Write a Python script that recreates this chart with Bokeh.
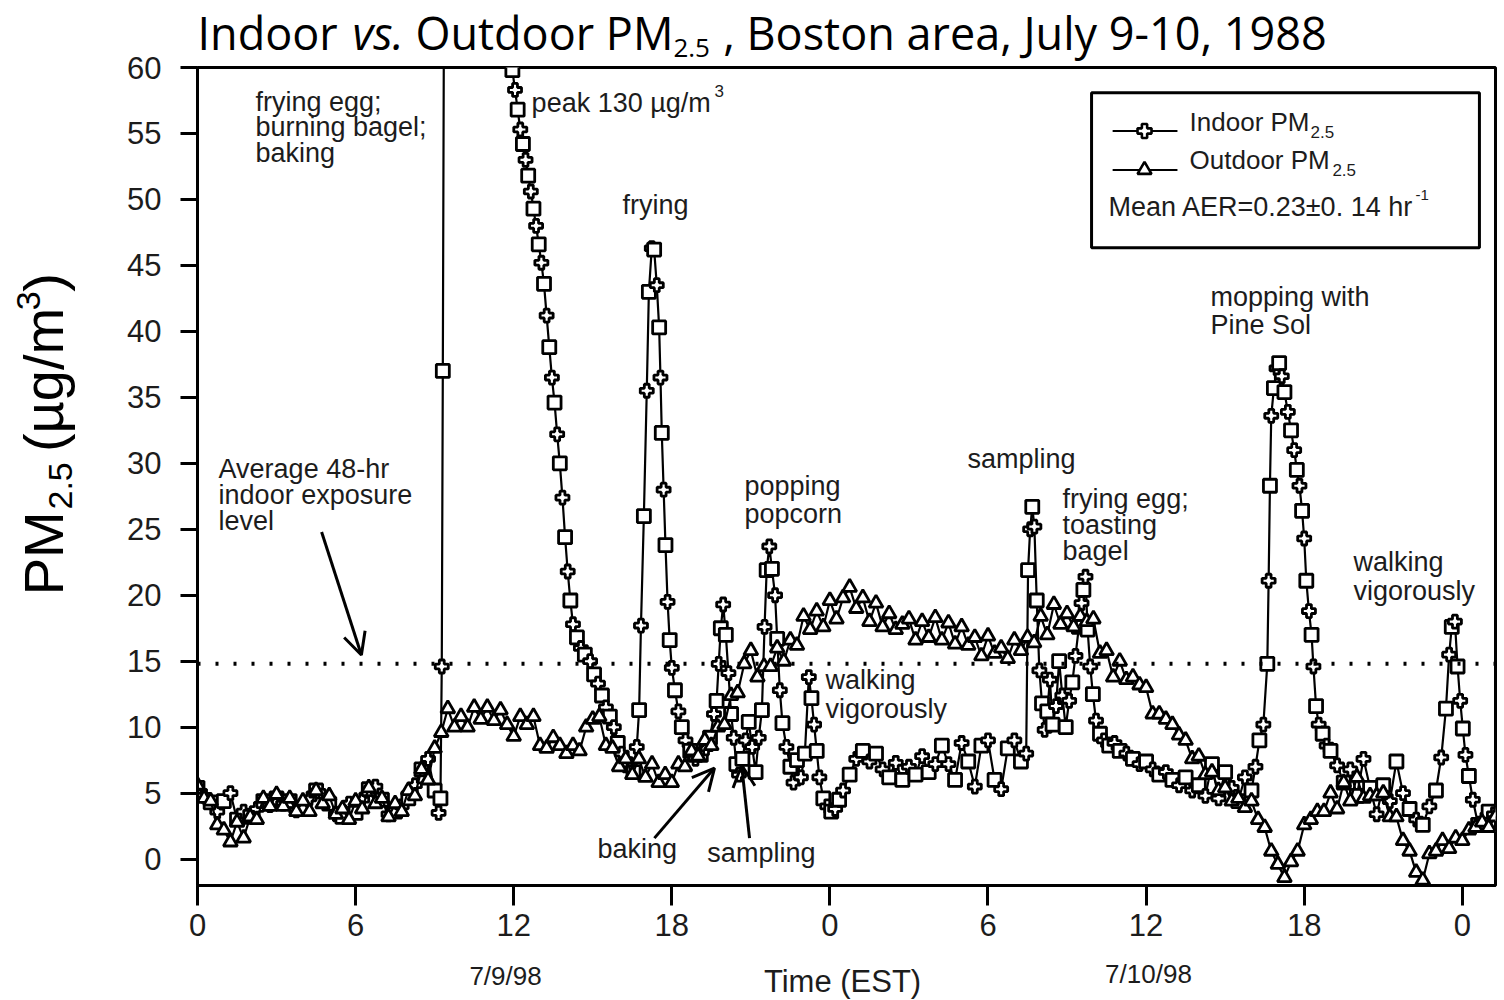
import numpy as np
from bokeh.plotting import figure
from bokeh.layouts import row, column
from bokeh.models import (Range1d, FixedTicker, Label, Span, Arrow, OpenHead,
                          BoxAnnotation, ColumnDataSource, LinearAxis)
from bokeh.core.validation import silence
from bokeh.core.validation.warnings import MISSING_RENDERERS
from bokeh.embed import file_html
from bokeh.resources import INLINE

silence(MISSING_RENDERERS, True)

# ---------------------------------------------------------------- data
# Outdoor PM2.5 (ug/m3), one reading every 15 minutes from 0:00 on 7/9/98
OUTDOOR_STEP_H = 0.25
outdoor_pm = [
    5.6, 4.6, 4.4, 2.6,   2.2, 1.3, 2.8, 1.6,   3.2, 3.0, 4.6, 4.0,
    4.9, 4.0, 4.6, 3.6,   4.4, 3.6, 5.2, 4.2,   4.8, 3.4, 3.8, 3.0,
    4.4, 3.8, 5.4, 4.2,   4.6, 3.2, 4.2, 3.6,   5.2, 4.8, 6.8, 6.0,
    8.4, 9.6, 11.4, 10.0, 10.8, 10.0, 11.5, 10.6, 11.5, 10.5, 11.3, 10.2,
    9.3, 10.8, 10.2, 10.8, 8.6, 8.4, 9.2, 8.6,  8.0, 8.6, 8.2, 10.0,
    10.6, 10.8, 8.6, 8.4, 7.0, 7.6, 6.4, 7.6,   6.2, 7.2, 5.8, 6.4,
    5.8, 7.2, 7.0, 8.2,   7.8, 9.0, 8.6, 10.0,  10.2, 12.4, 12.6, 14.8,
    15.8, 13.8, 14.6, 14.6, 16.0, 15.0, 16.6, 16.2, 18.4, 17.4, 18.8, 17.6,
    19.6, 18.2, 19.8, 20.6, 19.0, 19.8, 18.0, 19.4, 17.6, 18.6, 17.4, 17.8,
    18.2, 16.6, 18.0, 16.8, 18.3, 16.6, 17.9, 16.3, 17.6, 16.2, 16.8, 15.4,
    16.9, 15.6, 16.0, 15.2, 16.6, 15.8, 16.8, 16.4, 18.4, 17.0, 19.3, 17.8,
    18.6, 17.6, 18.4, 18.0, 18.2, 15.6, 15.8, 13.8, 15.0, 13.6, 13.8, 13.2,
    13.0, 11.0, 11.0, 10.6, 10.2, 9.4, 9.0, 7.6,  7.8, 6.4, 6.6, 5.2,
    5.4, 4.4, 4.6, 3.9,   4.4, 3.0, 2.4, 0.6,   -0.4, -1.4, -0.2, 0.6,
    2.6, 3.0, 3.6, 3.6,   5.0, 3.8, 5.8, 4.4,   6.2, 4.6, 4.8, 4.8,
    5.0, 3.2, 3.2, 1.4,   0.6, -1.0, -1.6, 0.4,  0.6, 1.4, 0.8, 1.6,
    1.4, 2.2, 2.4, 2.8,   2.4, 3.2,
]
outdoor_hours = [i * OUTDOOR_STEP_H for i in range(len(outdoor_pm))]

# Indoor PM2.5: denser readings during the cooking / activity episodes
indoor_hours = [
    0.0, 0.25, 0.5, 0.75, 1.0, 1.25, 1.5, 1.75, 2.0, 2.25, 2.5, 2.75,
    3.0, 3.25, 3.5, 3.75, 4.0, 4.25, 4.5, 4.75, 5.0, 5.25, 5.5, 5.75,
    6.0, 6.25, 6.5, 6.75, 7.0, 7.25, 7.5, 7.75, 8.0, 8.25, 8.5, 8.75, 9.0,
    9.15, 9.22, 9.27, 9.31, 9.4, 9.6, 9.8, 10.0, 10.25, 10.5, 10.75, 11.0,
    11.25, 11.5, 11.75,
    11.95, 12.05, 12.15, 12.25, 12.35, 12.45, 12.55, 12.65, 12.75, 12.85,
    12.95, 13.05, 13.15, 13.25, 13.35, 13.45, 13.55, 13.65, 13.75, 13.85,
    13.95, 14.05, 14.15, 14.25, 14.4, 14.55, 14.7, 14.9, 15.05, 15.2,
    15.35, 15.5, 15.65, 15.8, 15.95, 16.1, 16.25, 16.4, 16.55,
    16.67, 16.76, 16.83, 16.94, 17.05, 17.13, 17.24, 17.33, 17.43, 17.52,
    17.57, 17.62, 17.69, 17.76, 17.84, 17.92, 18.0, 18.12, 18.25, 18.38,
    18.52, 18.7, 18.9, 19.1, 19.3, 19.45,
    19.6, 19.7, 19.78, 19.86, 19.95, 20.05, 20.15, 20.25, 20.35, 20.45,
    20.55, 20.68, 20.8, 20.92, 21.05, 21.18, 21.3,
    21.42, 21.52, 21.6, 21.7, 21.8, 21.92, 22.0, 22.1, 22.2, 22.35, 22.5,
    22.62, 22.75, 22.9, 23.05,
    23.2, 23.3, 23.4, 23.5, 23.6, 23.75, 23.9, 24.05, 24.2, 24.35, 24.5,
    24.75, 25.0, 25.25, 25.5, 25.75, 26.0, 26.25, 26.5, 26.75, 27.0, 27.25,
    27.5, 27.75, 28.0, 28.25, 28.5, 28.75, 29.0, 29.25, 29.5, 29.75, 30.0,
    30.25, 30.5, 30.75, 31.0, 31.25, 31.45,
    31.52, 31.6, 31.68, 31.76, 31.85, 31.95, 32.05, 32.15, 32.25, 32.35,
    32.45, 32.58, 32.7, 32.82, 32.95, 33.08, 33.2, 33.32, 33.45, 33.55,
    33.62, 33.7, 33.78, 33.88, 33.98, 34.1, 34.25, 34.4, 34.6, 34.8, 35.0,
    35.25, 35.5, 35.75, 36.0, 36.25, 36.5, 36.75, 37.0, 37.25, 37.5, 37.75,
    38.0, 38.25, 38.5, 38.75, 39.0, 39.25, 39.5, 39.75, 40.0, 40.15, 40.3,
    40.45,
    40.6, 40.65, 40.7, 40.75, 40.85, 40.95, 41.05, 41.15, 41.25, 41.38,
    41.5, 41.62, 41.72, 41.82, 41.92, 42.0, 42.08, 42.18, 42.28, 42.35,
    42.45, 42.55, 42.7, 42.85, 43.0, 43.25, 43.5, 43.75, 44.0, 44.25, 44.5,
    44.75, 45.0, 45.25, 45.5, 45.75, 46.0, 46.25, 46.5, 46.75, 47.0,
    47.2, 47.38, 47.5, 47.6, 47.72, 47.82, 47.92, 48.02, 48.12, 48.25,
    48.4, 48.6, 48.8, 49.0, 49.2,
]
indoor_pm = [
    5.4, 4.8, 4.3, 3.6, 4.4, 5.0, 3.0, 3.6, 3.2, 3.8, 4.4, 4.1,
    4.6, 4.2, 4.4, 3.7, 3.9, 4.6, 5.2, 4.8, 4.2, 3.4, 3.2, 4.2,
    3.5, 4.5, 5.3, 5.5, 4.5, 3.4, 3.6, 4.0, 4.6, 5.6, 6.8, 7.6, 5.2,
    3.5, 4.6, 14.6, 37.0, 95.0, 130.0, 125.0, 118.0, 109.0, 100.0, 91.0, 82.0,
    74.0, 67.5, 62.5,
    59.8, 58.3, 56.8, 55.3, 54.2, 53.0, 51.8, 50.6, 49.3, 48.0,
    46.6, 45.2, 43.6, 41.2, 38.8, 36.5, 34.6, 32.2, 30.0, 27.4,
    24.4, 21.8, 19.6, 17.8, 16.8, 16.0, 15.5, 15.0, 14.0, 13.3,
    12.4, 11.5, 10.8, 10.0, 8.8, 8.0, 7.2, 6.8, 6.6,
    8.5, 11.3, 17.7, 26.0, 35.5, 43.0, 46.3, 46.2, 43.5, 40.3,
    36.5, 32.3, 28.0, 23.8, 19.5, 16.6, 14.5, 12.8, 11.2, 10.0,
    9.0, 8.2, 7.6, 7.9, 8.4, 9.2,
    11.0, 12.0, 14.8, 17.5, 19.3, 17.0, 14.1, 11.0, 9.2, 7.2,
    6.4, 7.6, 9.0, 10.4, 8.5, 6.6, 9.2,
    11.3, 17.6, 21.9, 23.7, 22.0, 20.0, 16.7, 12.8, 10.3, 8.5, 7.0,
    5.8, 7.5, 6.2, 8.0,
    13.8, 12.2, 10.2, 8.2, 6.2, 4.6, 4.0, 3.6, 3.8, 4.5, 5.2,
    6.4, 7.6, 8.2, 7.4, 8.0, 6.8, 6.2, 7.3, 6.0, 7.0, 6.4,
    7.8, 6.6, 7.2, 8.6, 7.2, 6.0, 8.8, 7.4, 5.5, 8.6, 9.0,
    6.0, 5.3, 8.4, 9.0, 7.4, 8.0,
    21.9, 25.0, 26.7, 25.2, 19.6, 14.3, 11.8, 9.8, 11.2, 13.6,
    10.2, 11.6, 15.0, 12.4, 10.0, 12.0, 13.4, 15.4, 17.6, 19.4,
    20.4, 21.4, 17.4, 14.6, 12.5, 10.5, 9.5, 9.0, 8.6, 8.8, 8.2,
    8.0, 7.6, 7.2, 7.4, 6.8, 6.4, 6.6, 6.0, 5.6, 6.2, 5.2,
    5.6, 4.8, 7.2, 4.6, 6.6, 5.4, 4.4, 6.2, 5.2, 7.0, 9.0,
    10.2,
    14.8, 21.1, 28.3, 33.6, 35.7, 37.2, 37.6, 36.6, 35.4, 33.9,
    32.5, 31.0, 29.5, 28.3, 26.4, 24.3, 21.1, 18.8, 17.0, 14.6,
    11.6, 10.2, 9.5, 8.6, 8.2, 7.1, 5.8, 6.8, 4.8, 7.6, 5.4,
    3.4, 5.6, 4.4, 7.4, 5.0, 3.8, 3.0, 2.6, 4.0, 5.2,
    7.7, 11.4, 15.5, 17.6, 18.0, 14.6, 12.0, 9.9, 7.9, 6.3,
    4.5, 2.6, 3.0, 3.6, 3.4,
]

AVG_INDOOR_48H = 14.8          # average 48-hr indoor exposure level
X_TICKS = [0, 6, 12, 18, 24, 30, 36, 42, 48]
X_TICK_LABELS = ["0", "6", "12", "18", "0", "6", "12", "18", "0"]
Y_TICKS = list(range(0, 61, 5))

SANS = "Liberation Sans"
TITLE_FONT = "Open Sans"
INK = "#1c1c1c"

# page layout (pixels): frame spans x 197..1495, y 67..885
W, H = 1504, 1000
LAB_W = 100                # vertical axis title
NUM_W = 77                 # y tick numbers
TICK_B = 20                # chart's own left border (y tick marks)
TOP_H = 65                 # chart title
BOT_H = 49                 # time label and dates
FRAME_TOP, FRAME_BOTTOM = 67, 885
MAIN_W = W - LAB_W - NUM_W
MAIN_H = H - TOP_H - BOT_H
RIGHT_B = 9

x_range = Range1d(0, 49.26)
y_range = Range1d(-2, 60)


def bare(width, height, xr, yr, left=0, right=0, top=0, bottom=0):
    f = figure(width=width, height=height, x_range=xr, y_range=yr,
               output_backend="svg", toolbar_location=None,
               x_axis_location=None, y_axis_location=None,
               min_border_left=left, min_border_right=right,
               min_border_top=top, min_border_bottom=bottom)
    f.grid.visible = False
    f.outline_line_color = None
    f.title.visible = False
    f.background_fill_color = "white"
    f.border_fill_color = "white"
    return f


def put(fig, x, y, s, size="27px", font=SANS, style="normal", align="left",
        angle=0.0, color=INK):
    fig.add_layout(Label(x=x, y=y, text=s, text_font=font, text_font_size=size,
                         text_font_style=style, text_align=align,
                         text_baseline="middle", angle=angle, angle_units="rad",
                         text_color=color))


def style_axis(ax, tick_out, standoff):
    ax.axis_line_width = 3
    ax.axis_line_color = "black"
    ax.major_tick_line_width = 3
    ax.major_tick_line_color = "black"
    ax.major_tick_in = 0
    ax.major_tick_out = tick_out
    ax.minor_tick_line_color = None
    ax.major_label_standoff = standoff
    ax.major_label_text_font = SANS
    ax.major_label_text_font_size = "31px"
    ax.major_label_text_color = INK


# ---------------------------------------------------------------- main chart
p = figure(width=MAIN_W, height=MAIN_H, x_range=x_range, y_range=y_range,
           output_backend="svg", toolbar_location=None,
           min_border_left=TICK_B, min_border_right=RIGHT_B,
           min_border_top=FRAME_TOP - TOP_H,
           min_border_bottom=MAIN_H - (FRAME_TOP - TOP_H) - (FRAME_BOTTOM - FRAME_TOP))
p.title.visible = False
p.grid.visible = False
p.outline_line_color = "black"
p.outline_line_width = 3
p.background_fill_color = "white"
p.border_fill_color = "white"

style_axis(p.xaxis[0], 20, 8)
p.xaxis.ticker = FixedTicker(ticks=X_TICKS)
p.xaxis.major_label_overrides = dict(zip(X_TICKS, X_TICK_LABELS))

# y axis line and tick marks; the numbers sit in their own strip
style_axis(p.yaxis[0], 17, 0)
p.yaxis.ticker = FixedTicker(ticks=Y_TICKS)
p.yaxis.major_label_overrides = {t: "" for t in Y_TICKS}

# average exposure reference line
p.add_layout(Span(location=AVG_INDOOR_48H, dimension="width",
                  line_color="black", line_width=4, line_dash="3 15"))

# series
in_markers = ["square" if i % 2 == 0 else "plus" for i in range(len(indoor_pm))]
src_in = ColumnDataSource(dict(h=indoor_hours, v=indoor_pm, m=in_markers))
src_out = ColumnDataSource(dict(h=outdoor_hours, v=outdoor_pm))

p.line("h", "v", source=src_in, line_color="black", line_width=2.2)
p.scatter("h", "v", source=src_in, marker="m", size=13,
          fill_color="white", line_color="black", line_width=2.8)

p.line("h", "v", source=src_out, line_color="black", line_width=2.2)
p.scatter("h", "v", source=src_out, marker="triangle", size=14,
          fill_color="white", line_color="black", line_width=2.8)

# event annotations (data coordinates)
put(p, 2.20, 57.39, "frying egg;")
put(p, 2.20, 55.50, "burning bagel;")
put(p, 2.20, 53.53, "baking")
put(p, 12.68, 57.32, "peak 130 \u00b5g/m")
put(p, 19.62, 58.20, "3", "17px")
put(p, 16.13, 49.58, "frying")
put(p, 0.80, 29.57, "Average 48-hr")
put(p, 0.80, 27.60, "indoor exposure")
put(p, 0.80, 25.63, "level")
put(p, 20.76, 28.28, "popping")
put(p, 20.76, 26.16, "popcorn")
put(p, 23.83, 13.57, "walking")
put(p, 23.83, 11.37, "vigorously")
put(p, 15.18, 0.76, "baking")
put(p, 19.35, 0.45, "sampling")
put(p, 29.22, 30.33, "sampling")
put(p, 32.83, 27.29, "frying egg;")
put(p, 32.83, 25.32, "toasting")
put(p, 32.83, 23.35, "bagel")
put(p, 38.44, 42.61, "mopping with")
put(p, 38.44, 40.49, "Pine Sol")
put(p, 43.87, 22.52, "walking")
put(p, 43.87, 20.32, "vigorously")

for xs, ys, xe, ye in [(4.71, 24.79, 6.22, 15.47),
                       (17.34, 1.59, 19.62, 6.90),
                       (20.95, 1.59, 20.65, 7.13)]:
    p.add_layout(Arrow(end=OpenHead(size=22, line_width=3, line_color="black"),
                       x_start=xs, y_start=ys, x_end=xe, y_end=ye,
                       line_width=3, line_color="black"))

# key box
p.add_layout(BoxAnnotation(left=33.93, right=48.65, top=58.08, bottom=46.33,
                           fill_color="white", fill_alpha=1.0,
                           line_color="black", line_width=3, line_alpha=1.0,
                           level="underlay"))
p.line([34.73, 37.19], [55.19, 55.19], line_color="black", line_width=2)
p.scatter([35.94], [55.19], marker="plus", size=14, fill_color="white",
          line_color="black", line_width=2.6)
p.line([34.73, 37.19], [52.24, 52.24], line_color="black", line_width=2)
p.scatter([35.94], [52.24], marker="triangle", size=14, fill_color="white",
          line_color="black", line_width=2.6)
put(p, 37.65, 55.87, "Indoor PM", "26px")
put(p, 42.24, 55.12, "2.5", "17px")
put(p, 37.65, 52.99, "Outdoor PM", "26px")
put(p, 43.07, 52.24, "2.5", "17px")
put(p, 34.57, 49.43, "Mean AER=0.23\u00b10. 14 hr", "27px")
put(p, 46.22, 50.34, "-1", "15px")

# ---------------------------------------------------------------- y numbers strip
num = bare(NUM_W, H, Range1d(0, 1), y_range, left=NUM_W - 1,
           top=FRAME_TOP, bottom=H - FRAME_BOTTOM)
ynum = LinearAxis(ticker=FixedTicker(ticks=Y_TICKS))
style_axis(ynum, 0, 15)
ynum.axis_line_color = None
ynum.major_tick_line_color = None
num.add_layout(ynum, "left")

# ---------------------------------------------------------------- y title strip
# shares the chart's PM2.5 axis; x counts page pixels
lab = bare(LAB_W, H, Range1d(0, LAB_W), y_range,
           top=FRAME_TOP, bottom=H - FRAME_BOTTOM)
R = np.pi / 2
put(lab, 42.6, 20.0, "PM", "56px", angle=R, color="black")
put(lab, 60.0, 26.5, "2.5", "34px", angle=R, color="black")
put(lab, 42.6, 30.85, "(\u00b5g/m", "56px", angle=R, color="black")
put(lab, 28.0, 41.6, "3", "34px", angle=R, color="black")
put(lab, 42.6, 43.0, ")", "56px", angle=R, color="black")

# ---------------------------------------------------------------- title strip
# shares the chart's time axis; y counts page pixels downwards
top = bare(MAIN_W, TOP_H, x_range, Range1d(TOP_H, 0), left=TICK_B, right=RIGHT_B)
put(top, 0.0, 31.5, "Indoor", "45px", TITLE_FONT, color="black")
put(top, 5.88, 31.5, "vs.", "45px", TITLE_FONT, style="italic", color="black")
put(top, 8.27, 31.5, "Outdoor PM", "45px", TITLE_FONT, color="black")
put(top, 18.06, 47.0, "2.5", "26px", TITLE_FONT, color="black")
put(top, 19.95, 31.5, ", Boston area, July 9-10, 1988", "45px", TITLE_FONT,
    color="black")

# ---------------------------------------------------------------- bottom strip
bottom = bare(MAIN_W, BOT_H, x_range, Range1d(H, H - BOT_H), left=TICK_B, right=RIGHT_B)
put(bottom, 24.48, 981, "Time (EST)", "31px", align="center")
put(bottom, 11.69, 975, "7/9/98", "26px", align="center")
put(bottom, 36.09, 973, "7/10/98", "26px", align="center")

page = row(lab, num, column(top, p, bottom))
open("out.html", "w").write(file_html(page, INLINE))
